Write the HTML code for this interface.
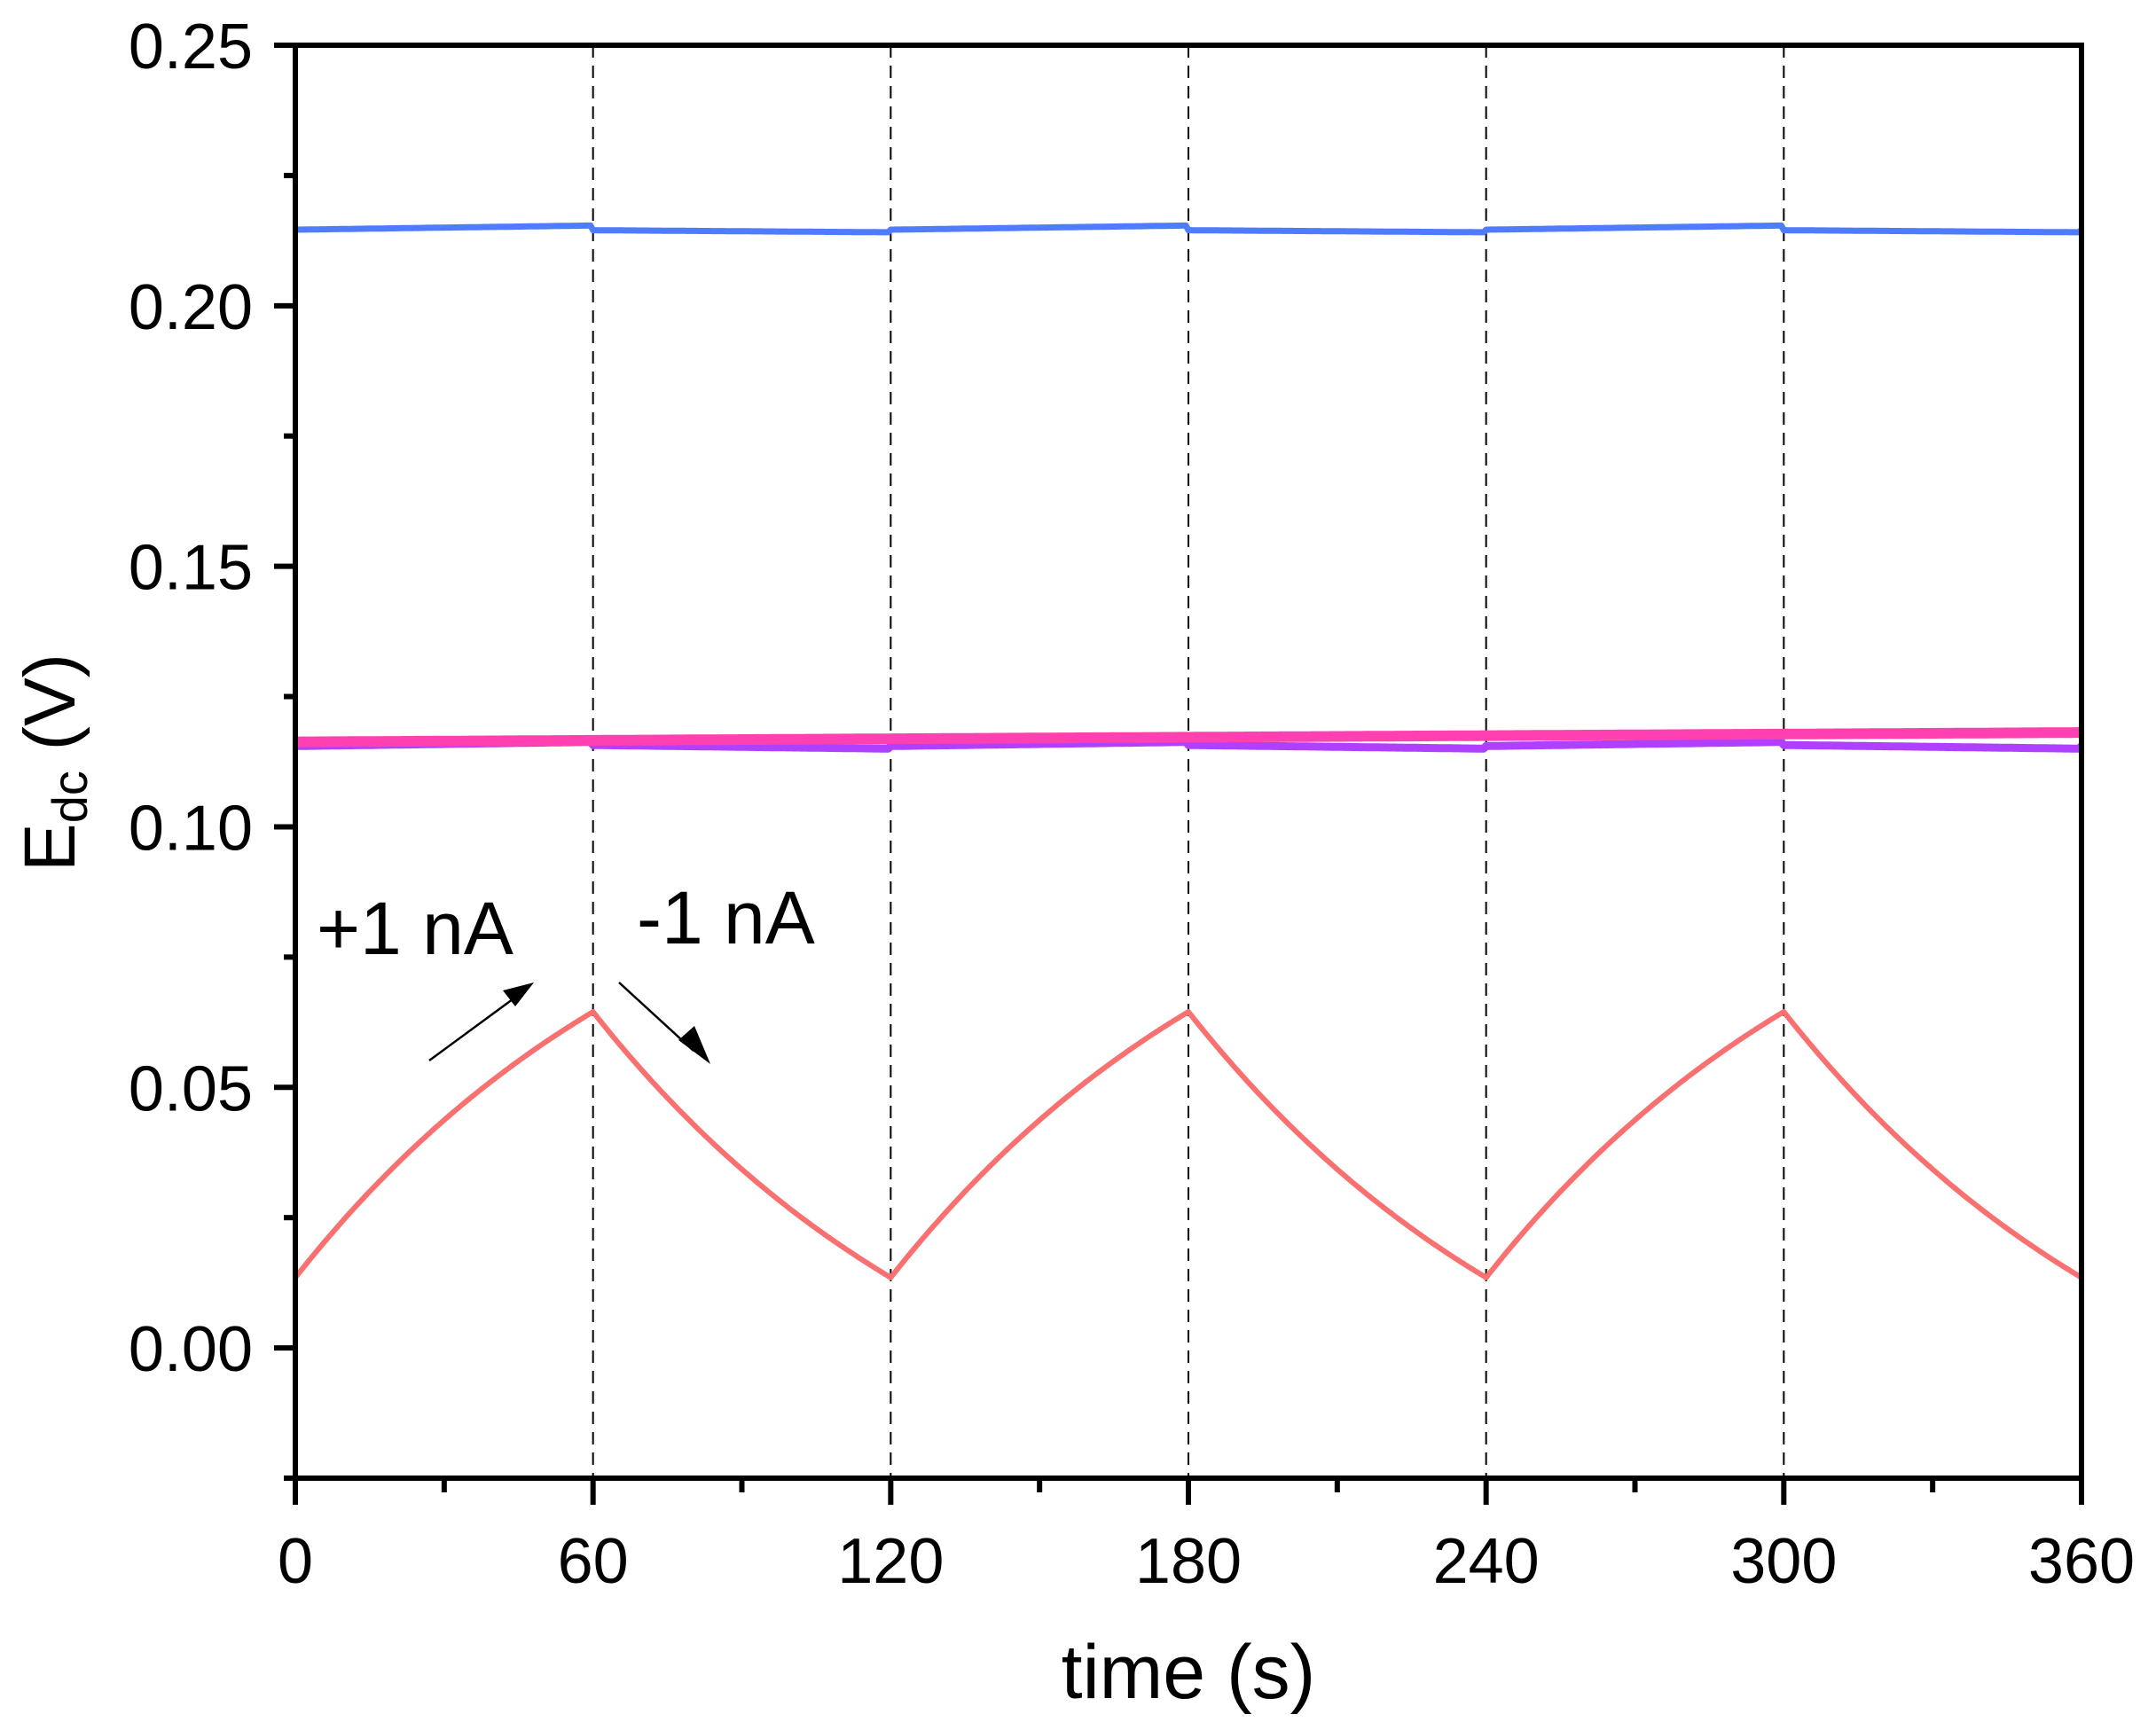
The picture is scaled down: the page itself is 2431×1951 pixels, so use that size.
<!DOCTYPE html>
<html><head><meta charset="utf-8"><style>
html,body{margin:0;padding:0;background:#fff;}
svg{display:block;}
text{font-family:"Liberation Sans",Arial,sans-serif;fill:#000;}
</style></head><body>
<svg id="s" width="2431" height="1951" viewBox="0 0 2431 1951" xmlns="http://www.w3.org/2000/svg">
<g id="dash" stroke="#000" stroke-width="2" stroke-dasharray="14,9"></g>
<g id="series" fill="none" stroke-linejoin="round"></g>
<g id="axes" stroke="#000" stroke-width="6" fill="none"></g>
<g id="labels" font-size="72"></g>
<text x="1340" y="1915" font-size="86" text-anchor="middle">time (s)</text>
<text transform="translate(84,860) rotate(-90)" font-size="82" text-anchor="middle">E<tspan font-size="56" dy="14">dc</tspan><tspan dy="-14"> (V)</tspan></text>
<text x="357" y="1076" font-size="84">+1 nA</text>
<text x="718" y="1064" font-size="84">-1 nA</text>
<g stroke="#000" stroke-width="2.5">
<line x1="484" y1="1196" x2="582" y2="1124"/>
<line x1="698" y1="1108" x2="782" y2="1185"/>
</g>
<polygon points="602,1108 567,1117 581,1135" fill="#000"/>
<polygon points="801,1200 765,1173 783,1157" fill="#000"/>
</svg>
<script>
var L=333,R=2347,T=51,B=1667,ymin=-0.025,ymax=0.25;
function X(t){return L+(R-L)*t/360;}
function Y(v){return T+(B-T)*(ymax-v)/(ymax-ymin);}
var ns="http://www.w3.org/2000/svg";
function el(p,tag,a){var e=document.createElementNS(ns,tag);for(var k in a)e.setAttribute(k,a[k]);document.getElementById(p).appendChild(e);return e;}
[60,120,180,240,300].forEach(function(t){el("dash","line",{x1:X(t),y1:T,x2:X(t),y2:B});});
function path(f,col,w){var d="";for(var i=0;i<=720;i++){var t=i*0.5;d+=(i?"L":"M")+X(t).toFixed(1)+","+Y(f(t)).toFixed(1);}el("series","path",{d:d,stroke:col,"stroke-width":w});}
path(function(t){var c=Math.floor(t/60)%2;var p=t%60;return c==0?0.2146+0.0008*(p/60):0.2145-0.0004*(p/60);},"#4f7bff",7);
path(function(t){var c=Math.floor(t/60)%2;var p=t%60;return (c==0?0.1155+0.0008*p/60:0.1157-0.0007*p/60);},"#b040ff",9);
path(function(t){return 0.1163+0.0018*t/360;},"#ff40b0",12);
path(function(t){var c=Math.floor(t/60);var p=t%60;if(t>=360){c=5;p=60;}var tau=80;var lo=0.0135,hi=0.0645;
 if(c%2==0){return lo+(hi-lo)*(1-Math.exp(-p/tau))/(1-Math.exp(-60/tau));}
 else{return hi-(hi-lo)*(1-Math.exp(-p/tau))/(1-Math.exp(-60/tau));}},"#f87070",6);
el("axes","rect",{x:L,y:T,width:R-L,height:B-T});
for(var v=-0.025;v<=0.2501;v+=0.025){var y=Y(v);var maj=Math.abs(Math.round(v*1000)%50)<1;el("axes","line",{x1:L-(maj?24:13),y1:y,x2:L,y2:y});
 if(maj){var tx=el("labels","text",{x:285,y:y+26,"text-anchor":"end"});tx.textContent=v.toFixed(2).replace("-0.00","0.00");}}
for(var t=0;t<=360;t+=30){var x=X(t);var maj=t%60==0;el("axes","line",{x1:x,y1:B,x2:x,y2:B+(maj?30:16)});
 if(maj){var tx=el("labels","text",{x:x,y:1785,"text-anchor":"middle"});tx.textContent=t;}}
</script>
</body></html>
